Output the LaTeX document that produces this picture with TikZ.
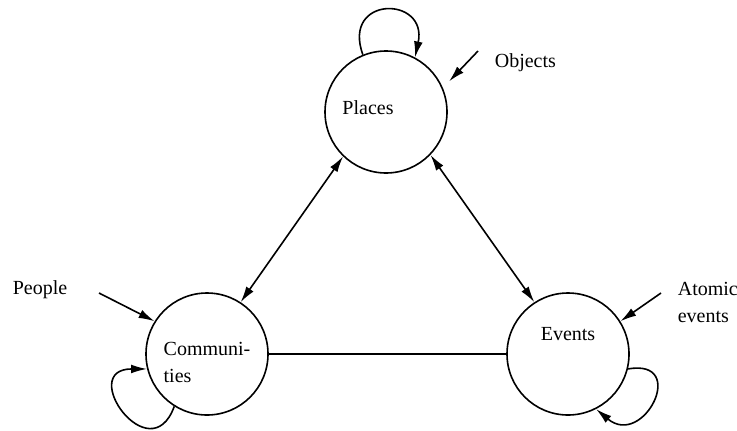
\documentclass[tikz,border=0pt]{standalone}
\usepackage{fontspec}
\setmainfont{Liberation Serif}
\usetikzlibrary{arrows.meta}
\begin{document}
\begin{tikzpicture}[x=0.5pt, y=0.5pt, line width=0.8pt, >={Latex[length=8pt,width=4.4pt]}]
	\tikzstyle{topic} = [draw, circle, minimum size=61pt, inner sep=0pt]
	\tikzstyle{tag} = [inner sep=0pt, align=left, font={\fontsize{10}{13.5}\selectfont}]
	\useasboundingbox (0,0) rectangle (737,430);
	\node[topic, label={[tag, xshift=-9pt, yshift=2pt]center:Places}] (places) at (386,318) {};
	\node[topic, label={[tag, yshift=-4pt]center:Communi-\\ties}] (comm) at (207,76) {};
	\node[topic, label={[tag, yshift=10pt]center:Events}] (events) at (568,76) {};
	\node[tag, anchor=base west] (objects) at (494,363) {Objects};
	\node[tag, anchor=base west] (people) at (12,136) {People};
	\node[tag, anchor=north west] (atomic) at (677,149) {Atomic\\events};
	\coordinate (objtail) at (478,379);
	\coordinate (peopletail) at (99,137);
	\coordinate (atomtail) at (661,137);
	\draw[<->] (places.226) -- (comm.57);
	\draw[<->] (places.316) -- (events.123);
	\draw (comm) -- (events);
	\draw[->, shorten >=4.5pt] (objtail) -- (places.23);
	\draw[->] (peopletail) -- (comm.148);
	\draw[->] (atomtail) -- (events.32);
	\draw[->] (places.112) to[out=110, in=78, looseness=3.1] (places.62);
	\draw[->] (comm.238) to[out=250, in=180, looseness=3.9] (comm.194);
	\draw[->] (events.346) to[out=10, in=-40, looseness=3.1] (events.297);
\end{tikzpicture}
\end{document}
